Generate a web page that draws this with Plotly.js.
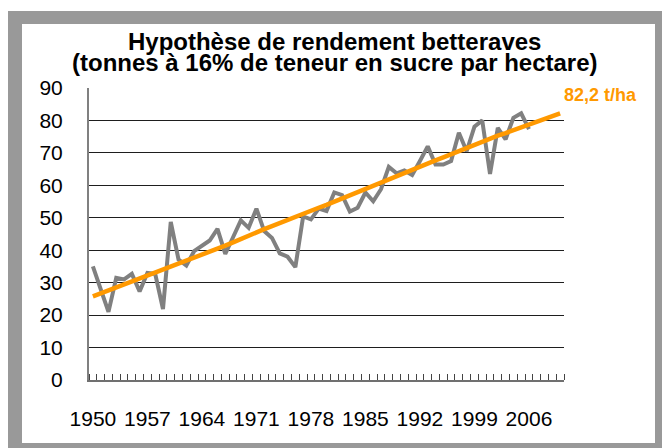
<!DOCTYPE html>
<html>
<head>
<meta charset="utf-8">
<script src="https://cdn.plot.ly/plotly-3.0.1.min.js"></script>
<style>
  html, body { margin: 0; padding: 0; background: #ffffff; }
  #frame { position: absolute; left: 8px; top: 11px; width: 654px; height: 437px; background: #999999; }
  #chart { position: absolute; left: 22px; top: 24px; width: 633px; height: 419px; background: #ffffff; }
</style>
</head>
<body>
<div id="frame"></div>
<div id="chart"></div>
<script>
// Years (categories)
var years = [1950,1951,1952,1953,1954,1955,1956,1957,1958,1959,
             1960,1961,1962,1963,1964,1965,1966,1967,1968,1969,
             1970,1971,1972,1973,1974,1975,1976,1977,1978,1979,
             1980,1981,1982,1983,1984,1985,1986,1987,1988,1989,
             1990,1991,1992,1993,1994,1995,1996,1997,1998,1999,
             2000,2001,2002,2003,2004,2005,2006,2007,2008,2009,2010];

// Observed yields (t/ha, 16% sugar), 1950-2006
var yields = [35.0,28.0,21.0,31.5,31.0,32.7,27.3,33.0,32.7,21.9,
              48.7,37.1,35.3,39.7,41.5,43.0,46.6,38.9,44.0,49.2,
              46.9,52.8,45.9,43.8,39.0,38.0,34.8,50.4,49.5,52.8,
              52.1,57.8,57.0,51.9,53.1,57.8,55.1,58.8,65.7,63.7,
              64.6,63.2,67.5,72.0,66.4,66.4,67.5,76.2,70.5,78.1,
              80.0,63.5,77.7,74.2,80.8,82.2,77.3];

// Trend hypothesis, 1950-2010
var trend = [25.8,26.7,27.6,28.5,29.4,30.3,31.2,32.1,33.0,33.9,
             34.8,35.7,36.6,37.5,38.4,39.3,40.3,41.4,42.4,43.5,
             44.6,45.5,46.5,47.4,48.4,49.3,50.2,51.2,52.1,53.1,
             54.0,55.0,56.0,57.0,58.0,59.0,60.0,61.0,62.0,63.0,
             64.0,64.9,65.8,66.7,67.7,68.6,69.6,70.6,71.5,72.5,
             73.5,74.4,75.3,76.1,77.0,77.9,78.8,79.6,80.5,81.3,82.2];

// Tick labels
var labelYears = [1950,1957,1964,1971,1978,1985,1992,1999,2006];

var titleLine1 = 'Hypothèse de rendement betteraves';
var titleLine2 = '(tonnes à 16% de teneur en sucre par hectare)';
var unit = ' t/ha';

var narrow = '"Liberation Sans Narrow", "Arial Narrow", "Liberation Sans", Arial, sans-serif';
var boldFont = '"Liberation Sans", Arial, sans-serif';

var lastYear = years[trend.length - 1];
var lastVal = trend[trend.length - 1];

var traces = [
  {
    x: years.slice(0, yields.length),
    y: yields,
    type: 'scatter',
    mode: 'lines',
    line: { color: '#808080', width: 4 },
    hoverinfo: 'x+y'
  },
  {
    x: years.slice(0, trend.length),
    y: trend,
    type: 'scatter',
    mode: 'lines',
    line: { color: '#FF9900', width: 4.5 },
    hoverinfo: 'x+y'
  }
];

var layout = {
  width: 633,
  height: 419,
  margin: { l: 67, r: 91, t: 64, b: 63, pad: 0 },
  paper_bgcolor: '#ffffff',
  plot_bgcolor: '#ffffff',
  showlegend: false,
  title: {
    text: '<b>' + titleLine1 + '</b>',
    font: { family: boldFont, size: 24, color: '#000000' },
    x: 0.494, xref: 'container', xanchor: 'center',
    y: 1 - 18 / 419, yref: 'container', yanchor: 'middle'
  },
  annotations: [
    {
      text: '<b>' + titleLine2 + '</b>',
      font: { family: boldFont, size: 24, color: '#000000' },
      xref: 'paper', yref: 'paper',
      x: 0.518, y: (356 - 38) / 292,
      xanchor: 'center', yanchor: 'middle',
      showarrow: false
    },
    {
      text: '<b>' + lastVal.toFixed(1).replace('.', ',') + unit + '</b>',
      font: { family: narrow, size: 18, color: '#FF9900' },
      xref: 'x', yref: 'y',
      x: lastYear, y: lastVal,
      xanchor: 'left', yanchor: 'middle',
      xshift: 2, yshift: 18,
      showarrow: false
    }
  ],
  xaxis: {
    range: [years[0] - 0.5, years[years.length - 1] + 0.5],
    tickmode: 'array',
    tickvals: labelYears,
    ticktext: labelYears.map(String),
    ticks: '',
    showgrid: false,
    zeroline: false,
    showline: true,
    linecolor: '#707070',
    linewidth: 2,
    tickfont: { family: narrow, size: 21, color: '#000000' },
    ticklabelstandoff: 19,
    minor: {
      tickmode: 'linear',
      tick0: years[0] - 0.5,
      dtick: 1,
      ticks: 'inside',
      ticklen: 6,
      tickwidth: 1,
      tickcolor: '#444444',
      showgrid: false
    },
    fixedrange: true
  },
  yaxis: {
    range: [0, 90],
    tickmode: 'linear',
    tick0: 0,
    dtick: 10,
    ticks: '',
    showgrid: true,
    gridcolor: '#1e1e1e',
    gridwidth: 1,
    zeroline: false,
    showline: true,
    linecolor: '#808080',
    linewidth: 2,
    tickfont: { family: narrow, size: 21, color: '#000000' },
    ticklabelstandoff: 20,
    fixedrange: true
  }
};

Plotly.newPlot('chart', traces, layout, { displayModeBar: false, staticPlot: true });
</script>
</body>
</html>
